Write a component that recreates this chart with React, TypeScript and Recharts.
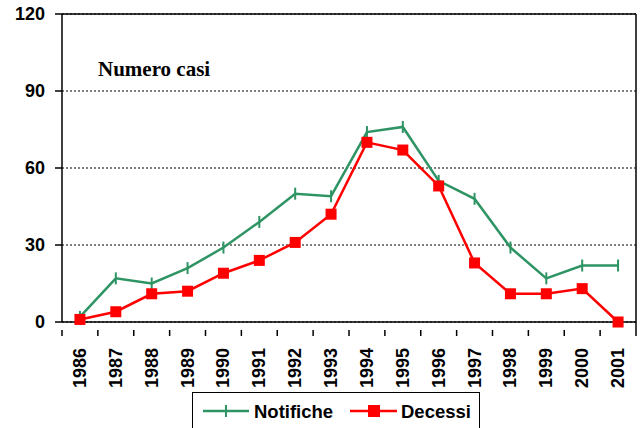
import {
  LineChart, Line, XAxis, YAxis, CartesianGrid, Legend, ReferenceLine,
} from 'recharts';

const years = ['1986', '1987', '1988', '1989', '1990', '1991', '1992', '1993', '1994', '1995', '1996', '1997', '1998', '1999', '2000', '2001'];
const notifiche = [2, 17, 15, 21, 29, 39, 50, 49, 74, 76, 55, 48, 29, 17, 22, 22];
const decessi = [1, 4, 11, 12, 19, 24, 31, 42, 70, 67, 53, 23, 11, 11, 13, 0];
const yTicks = [0, 30, 60, 90, 120];

const GREEN = '#2E9464';
const RED = '#FF0000';
const FONT = '"Liberation Sans", Arial, sans-serif';
const TOP = 14;

const data = years.map((y, i) => ({ year: y, Notifiche: notifiche[i], Decessi: decessi[i] }));

const PlusDot = ({ cx, cy }: any) => (
  <line x1={cx} y1={cy - 6} x2={cx} y2={cy + 6} stroke={GREEN} strokeWidth={2} />
);

const SquareDot = ({ cx, cy }: any) => (
  <rect x={cx - 5.5} y={cy - 5.5} width={11} height={11} fill={RED} />
);

const YearTick = ({ x, y, payload, index }: any) => {
  const half = payload.offset || 0;
  const last = index === years.length - 1;
  return (
    <g>
      <line x1={x - half} y1={y} x2={x - half} y2={y + 6} stroke="#000" strokeWidth={1.5} />
      {last && (
        // closing tick plus the right-hand frame line up to the top of the plot
        <line x1={x + half} y1={TOP} x2={x + half} y2={y + 6} stroke="#000" strokeWidth={1.5} />
      )}
      <text
        x={x + 6}
        y={y + 18}
        transform={`rotate(-90, ${x + 6}, ${y + 18})`}
        textAnchor="end"
        fontSize={18}
        fontWeight="bold"
        fontFamily={FONT}
        fill="#000"
      >
        {payload.value}
      </text>
    </g>
  );
};

const LegendBox = () => (
  <div
    style={{
      width: 288,
      height: 40,
      border: '1.5px solid #000',
      boxSizing: 'border-box',
      position: 'relative',
      background: '#fff',
    }}
  >
    <svg width={288} height={40} style={{ position: 'absolute', left: 0, top: 0 }}>
      <line x1={10} y1={18} x2={56} y2={18} stroke={GREEN} strokeWidth={2.5} />
      <line x1={33} y1={12} x2={33} y2={24} stroke={GREEN} strokeWidth={2} />
      <text x={61} y={25} fontFamily={FONT} fontWeight="bold" fontSize={18.5}>Notifiche</text>
      <line x1={157} y1={18} x2={204} y2={18} stroke={RED} strokeWidth={2.5} />
      <rect x={175} y={12} width={12} height={12} fill={RED} />
      <text x={208} y={25} fontFamily={FONT} fontWeight="bold" fontSize={18.5}>Decessi</text>
    </svg>
  </div>
);

export default function App() {
  return (
    <div style={{ position: 'fixed', left: 0, top: 0, width: 642, height: 428, background: '#fff', overflow: 'hidden' }}>
      <LineChart width={642} height={428} data={data} margin={{ top: TOP, right: 6, left: 0, bottom: 0 }}>
        <CartesianGrid
          horizontal
          vertical={false}
          stroke="#000"
          strokeDasharray="2 2"
          strokeWidth={1}
        />
        <XAxis
          dataKey="year"
          scale="band"
          height={106}
          axisLine={{ stroke: '#000', strokeWidth: 1.5 }}
          tickLine={false}
          tick={<YearTick />}
          interval={0}
        />
        <YAxis
          domain={[0, 120]}
          ticks={yTicks}
          width={62}
          axisLine={{ stroke: '#000', strokeWidth: 1.5 }}
          tickLine={{ stroke: '#000', strokeWidth: 1.5 }}
          tickSize={7}
          tickMargin={10}
          tick={{ fontSize: 18, fontWeight: 'bold', fill: '#000', fontFamily: FONT }}
        />
        <ReferenceLine y={120} stroke="#000" strokeWidth={1.5} />
        <Line
          dataKey="Notifiche"
          stroke={GREEN}
          strokeWidth={2.5}
          dot={<PlusDot />}
          activeDot={false}
          isAnimationActive={false}
        />
        <Line
          dataKey="Decessi"
          stroke={RED}
          strokeWidth={2.5}
          dot={<SquareDot />}
          activeDot={false}
          isAnimationActive={false}
        />
        <text x={98} y={76} fontFamily='"Liberation Serif", "Times New Roman", serif' fontWeight="bold" fontSize={21} fill="#000">
          Numero casi
        </text>
        <Legend
          layout="horizontal"
          verticalAlign="middle"
          content={<LegendBox />}
          wrapperStyle={{ position: 'absolute', left: 192, top: 392, width: 288, height: 40 }}
        />
      </LineChart>
    </div>
  );
}
